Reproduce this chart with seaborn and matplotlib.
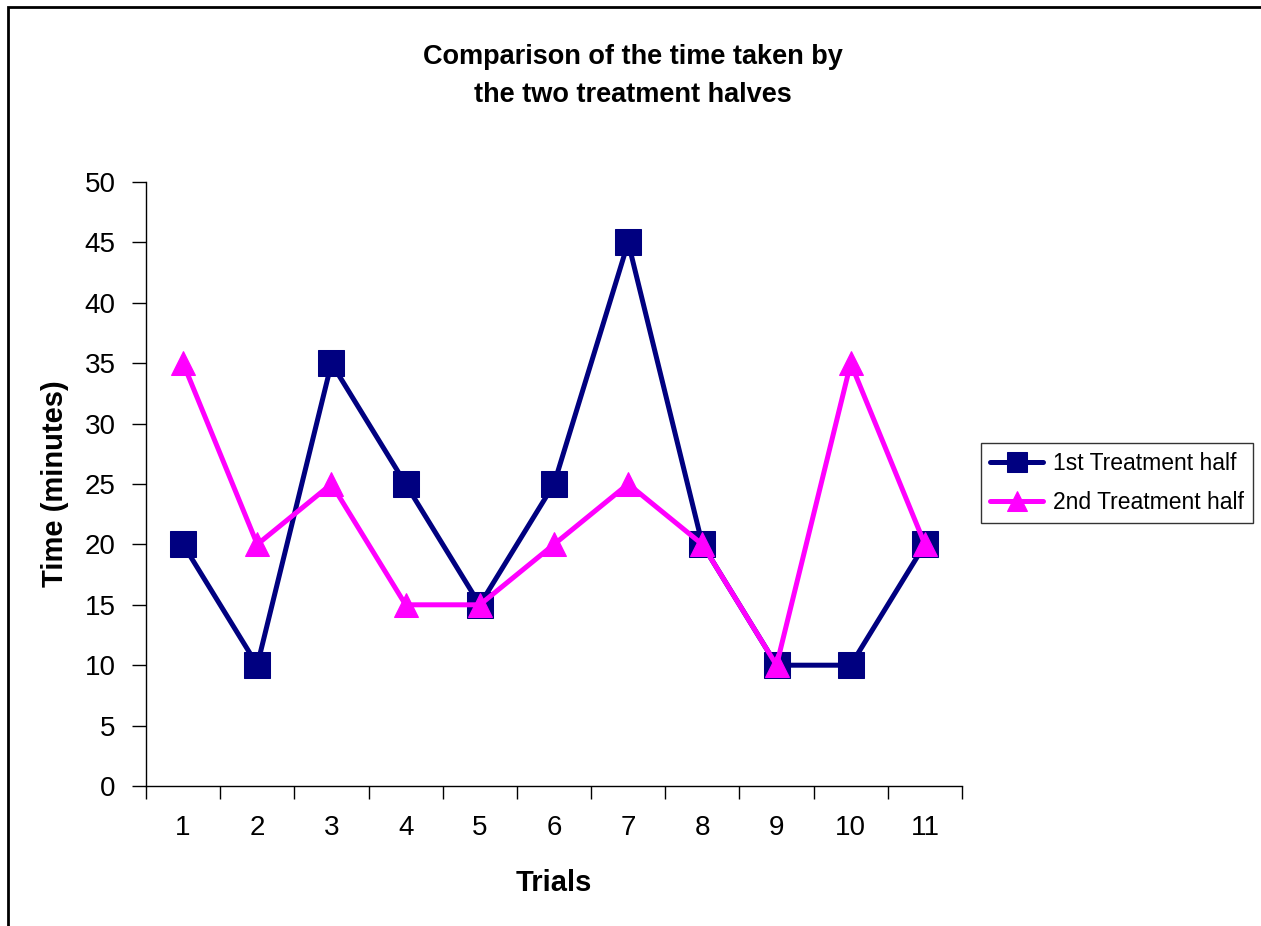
import numpy as np
import pandas as pd
import matplotlib
matplotlib.use("Agg")
import matplotlib.pyplot as plt
from matplotlib.patches import Rectangle
import seaborn as sns

# Dados
trials = ["1", "2", "3", "4", "5", "6", "7", "8", "9", "10", "11"]
first_half = [20, 10, 35, 25, 15, 25, 45, 20, 10, 10, 20]
second_half = [35, 20, 25, 15, 15, 20, 25, 20, 10, 35, 20]
y_ticks = [0, 5, 10, 15, 20, 25, 30, 35, 40, 45, 50]

sns.set_style("white")
plt.rcParams["font.family"] = ["Liberation Sans", "DejaVu Sans"]
plt.rcParams["text.color"] = "black"
plt.rcParams["axes.labelcolor"] = "black"
plt.rcParams["xtick.color"] = "black"
plt.rcParams["ytick.color"] = "black"

fig = plt.figure(figsize=(12.61, 9.26), dpi=100)
ax = fig.add_axes([146 / 1261, 1 - 786 / 926, (962 - 146) / 1261, (786 - 182) / 926])

pos = np.arange(len(trials))
sns.lineplot(x=pos, y=first_half, ax=ax, color="#000080", linewidth=3.6,
             marker="s", markersize=19, markeredgecolor="#000080",
             label="1st Treatment half")
sns.lineplot(x=pos, y=second_half, ax=ax, color="#FF00FF", linewidth=3.6,
             marker="^", markersize=17, markeredgecolor="#FF00FF",
             label="2nd Treatment half")

# Eixos
ax.set_xlim(-0.5, len(trials) - 0.5)
ax.set_ylim(0, 50)
ax.set_yticks(y_ticks)
ax.set_xticks(np.arange(-0.5, len(trials), 1.0))
ax.set_xticklabels([])
ax.set_xticks(pos, minor=True)
ax.set_xticklabels(trials, minor=True)
ax.tick_params(axis="x", which="major", direction="out", length=9, width=1, bottom=True)
ax.tick_params(axis="x", which="minor", length=0, pad=21, labelsize=20)
ax.tick_params(axis="y", direction="out", length=10, width=1, left=True, labelsize=20, pad=12)

for side in ["top", "right"]:
    ax.spines[side].set_visible(False)
for side in ["left", "bottom"]:
    ax.spines[side].set_color("black")
    ax.spines[side].set_linewidth(1)

ax.set_xlabel("Trials", fontsize=21, fontweight="heavy", labelpad=20)
ax.set_ylabel("Time (minutes)", fontsize=21, fontweight="heavy", labelpad=11)

fig.text(0.502, 1 - 57 / 926, "Comparison of the time taken by", ha="center", va="center",
         fontsize=19.5, fontweight="heavy")
fig.text(0.502, 1 - 95 / 926, "the two treatment halves", ha="center", va="center",
         fontsize=19.5, fontweight="heavy")

leg = ax.legend(loc="center left", bbox_to_anchor=(981 / 1261, 1 - 483 / 926),
                bbox_transform=fig.transFigure, fontsize=16.5, frameon=True,
                fancybox=False, edgecolor="black", borderpad=0.4,
                handlelength=2.3, handletextpad=0.45, labelspacing=0.7,
                borderaxespad=0)
leg.get_frame().set_linewidth(1)
for h in leg.legend_handles:
    h.set_markersize(14)

# Moldura do grafico
fig.patches.append(Rectangle((8 / 1261, -0.1), 1.2, 1 - 7 / 926 + 0.1,
                             transform=fig.transFigure, fill=False,
                             edgecolor="black", linewidth=2))

fig.savefig("out.png", dpi=100)
